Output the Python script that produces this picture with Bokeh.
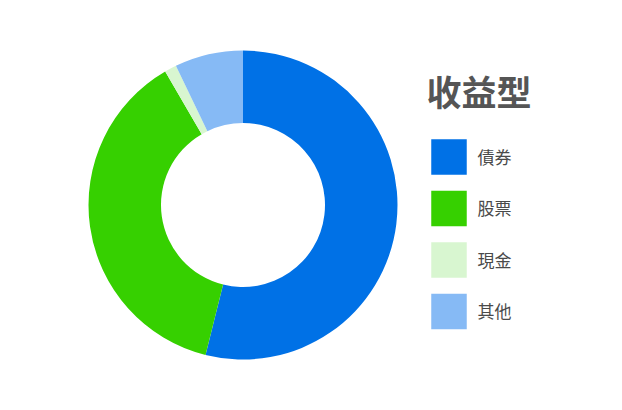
import numpy as np
from bokeh.plotting import figure
from bokeh.models import Range1d, ColumnDataSource
from bokeh.core.properties import value
from bokeh.embed import file_html
from bokeh.resources import INLINE

title = "收益型"
categories = ["債券", "股票", "現金", "其他"]
shares = [53.9, 37.7, 1.25, 7.15]
colors = ["#0071E6", "#36D000", "#D8F6D0", "#86BAF5"]

W, H = 606, 394
p = figure(width=W, height=H, x_range=Range1d(0, W), y_range=Range1d(0, H),
           output_backend="svg", toolbar_location=None, min_border=0)
p.axis.visible = False
p.grid.visible = False
p.outline_line_color = None
p.background_fill_color = "white"
p.border_fill_color = "white"

vals = np.array(shares, dtype=float)
frac = vals / vals.sum()
cum = np.concatenate([[0], np.cumsum(frac)])
start = np.pi / 2 - cum[:-1] * 2 * np.pi
end = np.pi / 2 - cum[1:] * 2 * np.pi

cx, cy = 242.5, 189.5
src = ColumnDataSource(dict(start=start, end=end, color=colors))
p.annular_wedge(x=cx, y=cy, inner_radius=82, outer_radius=154.5,
                start_angle="start", end_angle="end", direction="clock",
                fill_color="color", line_color=None, source=src)

# legend
n = len(categories)
ly = [237.5 - 51.5 * i for i in range(n)]
lsrc = ColumnDataSource(dict(x=[448.5] * n, y=ly, color=colors,
                             tx=[477] * n, ty=[v + 1 for v in ly], label=categories))
p.rect(x="x", y="y", width=35.5, height=35.5, fill_color="color",
       line_color=None, source=lsrc)
p.text(x="tx", y="ty", text="label", text_font=value("Noto Sans CJK TC"),
       text_font_size="17px", text_color="#4a4a4a",
       text_baseline="middle", text_align="left", source=lsrc)

p.text(x=[426], y=[304.5], text=[title], text_font=value("Noto Sans CJK TC"),
       text_font_size="35px", text_font_style="bold", text_color="#555555",
       text_baseline="middle", text_align="left")

open("out.html", "w").write(file_html(p, INLINE))
